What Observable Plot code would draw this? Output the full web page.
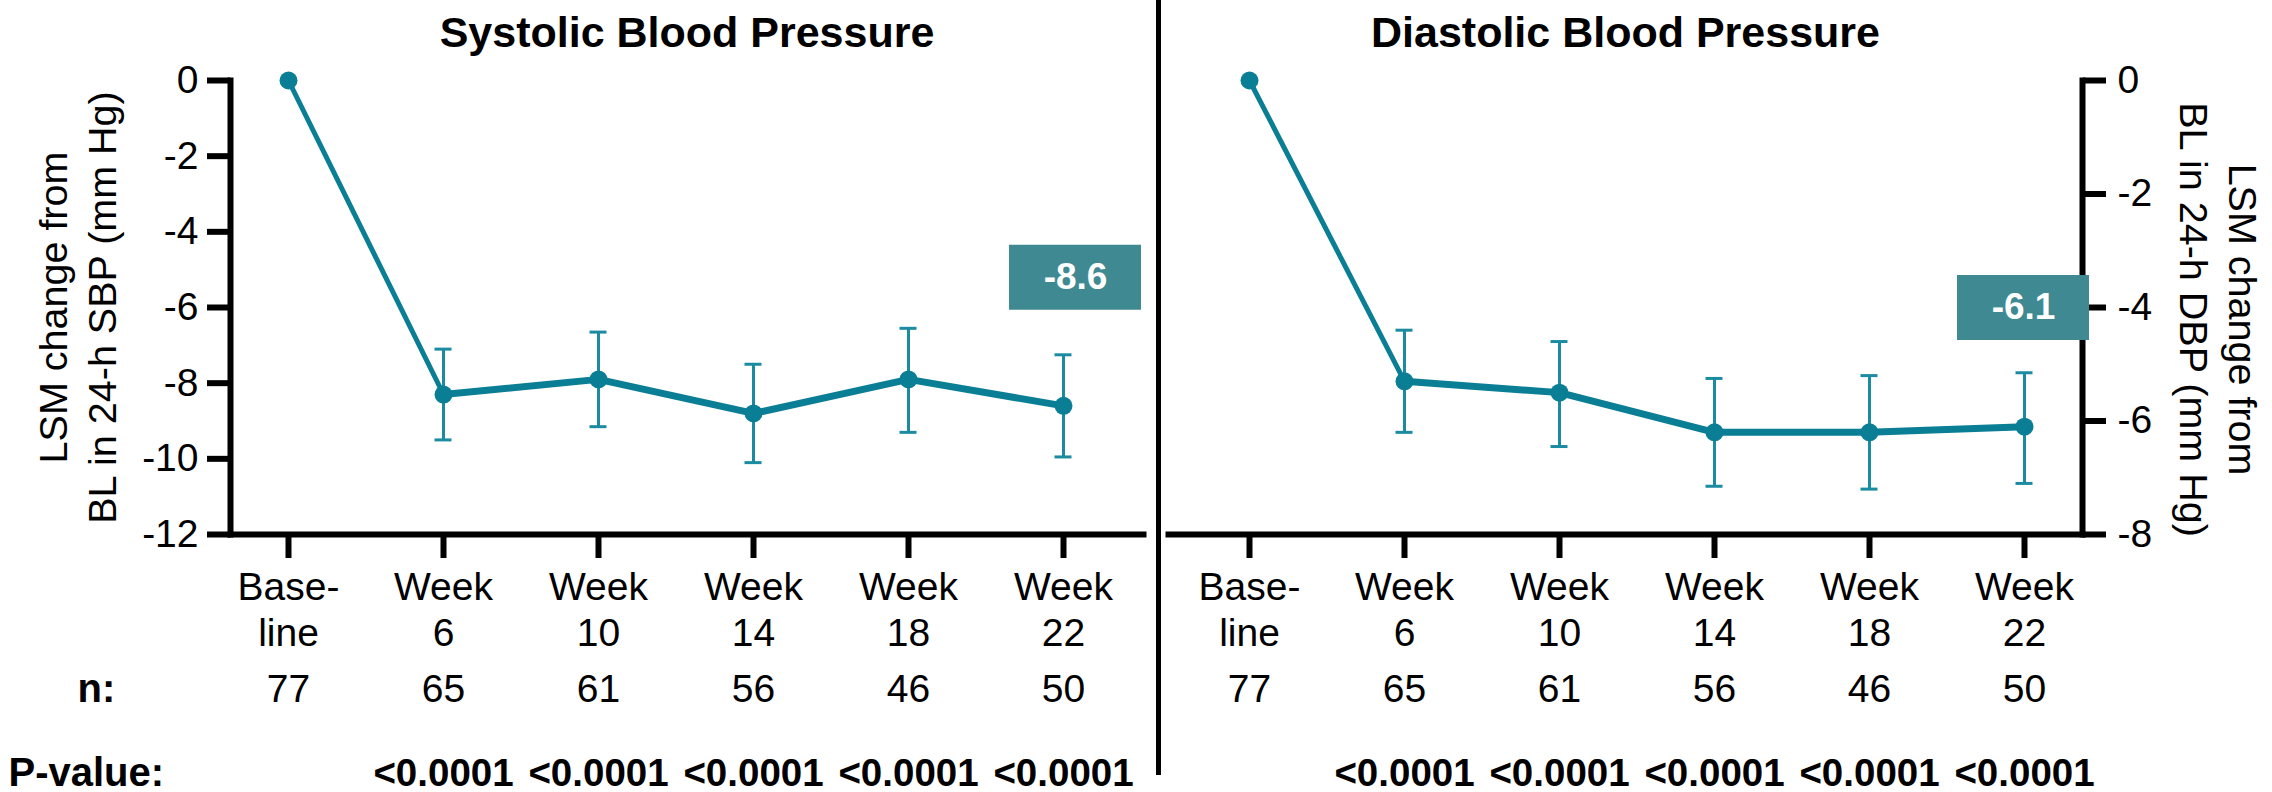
<!DOCTYPE html>
<html>
<head>
<meta charset="utf-8">
<script src="https://cdn.jsdelivr.net/npm/d3@7"></script>
<script src="https://cdn.jsdelivr.net/npm/@observablehq/plot@0.6"></script>
<style>
  html, body { margin: 0; padding: 0; background: #ffffff; }
  #wrap { position: relative; width: 2272px; height: 792px; overflow: hidden; background: #ffffff;
          font-family: "Liberation Sans", Arial, sans-serif; }
  #wrap svg { position: absolute; left: 0; top: 0; }
  #divider { position: absolute; left: 1156px; top: 0; width: 5px; height: 775px; background: #000; }
</style>
</head>
<body>
<div id="wrap"><div id="divider"></div></div>
<script>
// ---------------- data ----------------
const timepoints = ["Baseline", "Week 6", "Week 10", "Week 14", "Week 18", "Week 22"];
const tickLabels = ["Base-\nline", "Week\n6", "Week\n10", "Week\n14", "Week\n18", "Week\n22"];
const nCounts    = [77, 65, 61, 56, 46, 50];
const pValues    = ["", "<0.0001", "<0.0001", "<0.0001", "<0.0001", "<0.0001"];

const sbpMean = [0, -8.3, -7.9, -8.8, -7.9, -8.6];
const sbpLow  = [null, -9.5, -9.15, -10.1, -9.3, -9.95];
const sbpHigh = [null, -7.1, -6.65, -7.5, -6.55, -7.25];

const dbpMean = [0, -5.3, -5.5, -6.2, -6.2, -6.1];
const dbpLow  = [null, -6.2, -6.45, -7.15, -7.2, -7.1];
const dbpHigh = [null, -4.4, -4.6, -5.25, -5.2, -5.15];

const sbpTicks = [0, -2, -4, -6, -8, -10, -12];
const dbpTicks = [0, -2, -4, -6, -8];

const titles  = ["Systolic Blood Pressure", "Diastolic Blood Pressure"];
const yLabels = ["LSM change from\nBL in 24-h SBP (mm Hg)", "LSM change from\nBL in 24-h DBP (mm Hg)"];
const calloutText = ["-8.6", "-6.1"];
const rowLabels = ["n:", "P-value:"];

// ---------------- styles ----------------
const W = 2272, H = 792;
const FONT = "Liberation Sans, Arial, sans-serif";
const lineColor = "#0a7e95";
const errColor = "#1b8ba1";
const boxColor = "#3f8a92";

function panel(o) {
  const rows = timepoints.map((t, i) => ({
    t, mean: o.mean[i], lo: o.low[i], hi: o.high[i], n: String(nCounts[i]), p: pValues[i]
  }));
  const errRows = rows.filter(d => d.lo != null);
  const labelOf = new Map(timepoints.map((t, i) => [t, tickLabels[i]]));
  const side = o.side;
  const marks = [
    Plot.frame({anchor: "bottom", strokeWidth: 6, strokeLinecap: "square"}),
    Plot.frame({anchor: side, strokeWidth: 6, strokeLinecap: "square"}),
    Plot.axisY({anchor: side, ticks: o.ticks, tickSize: 23, tickPadding: side === "left" ? 9 : 12,
      strokeWidth: 6, fontSize: 39, fontFamily: FONT, fill: "#000", tickFormat: d => String(d), label: null}),
    Plot.axisX({anchor: "bottom", tickSize: 24, tickPadding: 9, strokeWidth: 6, fontSize: 39,
      fontFamily: FONT, fill: "#000", lineHeight: 1.18, tickFormat: d => labelOf.get(d), label: null}),
    // error bars
    Plot.ruleX(errRows, {x: "t", y1: "lo", y2: "hi", stroke: errColor, strokeWidth: 3}),
    Plot.ruleY(errRows, {x1: "t", x2: "t", y: "lo", stroke: errColor, strokeWidth: 3, insetLeft: -8.5, insetRight: -8.5}),
    Plot.ruleY(errRows, {x1: "t", x2: "t", y: "hi", stroke: errColor, strokeWidth: 3, insetLeft: -8.5, insetRight: -8.5}),
    // line + points
    Plot.line(rows.slice(0, 2), {x: "t", y: "mean", stroke: lineColor, strokeWidth: 5}),
    Plot.line(rows.slice(1), {x: "t", y: "mean", stroke: lineColor, strokeWidth: 7}),
    Plot.dot(rows, {x: "t", y: "mean", r: 9, fill: lineColor}),
    // callout box
    Plot.ruleY([{x: timepoints[5], y: o.calloutY}], {x1: "x", x2: "x", y: "y", stroke: boxColor,
      strokeWidth: 65, insetLeft: o.boxInsetL, insetRight: o.boxInsetR}),
    Plot.text([{x: timepoints[5], y: o.calloutY, s: o.callout}], {x: "x", y: "y", text: "s", dx: o.boxDx,
      fill: "#fff", fontWeight: "bold", fontSize: 37, fontFamily: FONT, textAnchor: "middle", lineAnchor: "middle"}),
    // title
    Plot.text([o.title], {frameAnchor: "top", textAnchor: "middle", lineAnchor: "bottom", dy: -34,
      fontSize: 43, fontWeight: "bold", fontFamily: FONT, fill: "#000"}),
    // y axis title
    Plot.text([o.yLabel], {frameAnchor: side, rotate: side === "left" ? -90 : 90, dx: o.labelDx, dy: o.labelDy,
      textAnchor: "middle", lineAnchor: "middle", lineHeight: 1.24, fontSize: 39.5, fontFamily: FONT, fill: "#000"}),
    // n row and p-value row
    Plot.text(rows, {x: "t", text: "n", frameAnchor: "bottom", textAnchor: "middle", lineAnchor: "bottom",
      dy: 167, fontSize: 39, fontFamily: FONT, fill: "#000"}),
    Plot.text(rows, {x: "t", text: "p", frameAnchor: "bottom", textAnchor: "middle", lineAnchor: "bottom",
      dy: 251, fontSize: 38.5, fontWeight: "bold", fontFamily: FONT, fill: "#000"})
  ];
  if (o.rowLabels) {
    marks.push(
      Plot.text([rowLabels[0]], {frameAnchor: "bottom-left", textAnchor: "start", lineAnchor: "bottom",
        dx: -153, dy: 167, fontSize: 40, fontWeight: "bold", fontFamily: FONT, fill: "#000"}),
      Plot.text([rowLabels[1]], {frameAnchor: "bottom-left", textAnchor: "start", lineAnchor: "bottom",
        dx: -222, dy: 251, fontSize: 40, fontWeight: "bold", fontFamily: FONT, fill: "#000"})
    );
  }
  return Plot.plot({
    width: W, height: H,
    marginTop: 80, marginBottom: 258, marginLeft: o.mL, marginRight: o.mR,
    style: {background: "transparent", overflow: "visible", fontFamily: FONT, color: "#000"},
    x: {type: "point", domain: timepoints, range: o.xRange, padding: 0},
    y: {domain: o.yDomain},
    marks
  });
}

const wrap = document.getElementById("wrap");
wrap.appendChild(panel({
  mean: sbpMean, low: sbpLow, high: sbpHigh, ticks: sbpTicks, yDomain: [-12, 0],
  side: "left", mL: 230, mR: W - 1143, xRange: [288, 1063],
  title: titles[0], yLabel: yLabels[0], labelDx: -155, labelDy: 0,
  callout: calloutText[0], calloutY: -5.2, boxInsetL: -54, boxInsetR: -78, boxDx: 12,
  rowLabels: true
}));
wrap.appendChild(panel({
  mean: dbpMean, low: dbpLow, high: dbpHigh, ticks: dbpTicks, yDomain: [-8, 0],
  side: "right", mL: 1168, mR: W - 2082, xRange: [1249, 2024],
  title: titles[1], yLabel: yLabels[1], labelDx: 138, labelDy: 12,
  callout: calloutText[1], calloutY: -4, boxInsetL: -67, boxInsetR: -65, boxDx: -1,
  rowLabels: false
}));
</script>
</body>
</html>
